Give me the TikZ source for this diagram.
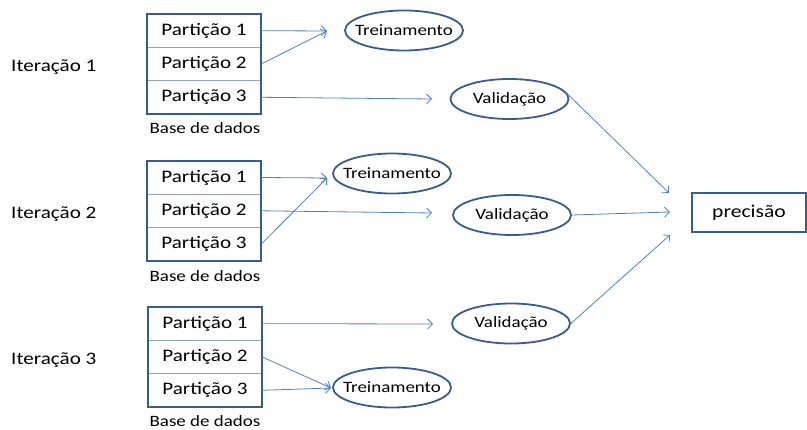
\documentclass[tikz,border=0pt]{standalone}
\usepackage{fontspec}
\setmainfont{Carlito}[FakeStretch=1.2]
\usetikzlibrary{arrows.meta,shapes.geometric}
\definecolor{bord}{HTML}{385D8A}
\definecolor{arr}{HTML}{4F81BD}
\definecolor{divc}{HTML}{8EA6C4}
\tikzset{
  part/.style={minimum width=114pt,minimum height=33.33pt,inner sep=0pt,font=\fontsize{17.6}{17.6}\selectfont},
  outer/.style={draw=bord,line width=1.8pt},
  divider/.style={draw=divc,line width=0.9pt},
  ell/.style={draw=bord,line width=1.8pt,ellipse,minimum width=118pt,minimum height=40pt,inner xsep=-12pt,inner ysep=-4pt,font=\fontsize{15.8}{15.8}\selectfont},
  conn/.style={draw=arr,line width=0.8pt,-{Straight Barb[length=5pt,width=10pt]}},
  lbl/.style={font=\fontsize{17.6}{17.6}\selectfont,anchor=west,inner sep=0pt},
  base/.style={font=\fontsize{15.8}{15.8}\selectfont,inner sep=0pt}
}
\begin{document}
\begin{tikzpicture}[x=1pt,y=-1pt]
\useasboundingbox (0,0) rectangle (807,430);
% Iteration labels
\node[lbl] (it1) at (11,67) {Iteração 1};
\node[lbl] (it2) at (11,214) {Iteração 2};
\node[lbl] (it3) at (11,360) {Iteração 3};
% box 1
\node[part] (p11) at (204,30.7) {Partição 1};
\node[part] (p12) at (204,64) {Partição 2};
\node[part] (p13) at (204,97.3) {Partição 3};
\draw[divider] (p11.south west) -- (p11.south east);
\draw[divider] (p12.south west) -- (p12.south east);
\draw[outer] (p11.north west) rectangle (p13.south east);
\node[base] (b1) at (205,128) {Base de dados};
% box 2
\node[part] (p21) at (204,177.5) {Partição 1};
\node[part] (p22) at (204,210.8) {Partição 2};
\node[part] (p23) at (204,244.2) {Partição 3};
\draw[divider] (p21.south west) -- (p21.south east);
\draw[divider] (p22.south west) -- (p22.south east);
\draw[outer] (p21.north west) rectangle (p23.south east);
\node[base] (b2) at (205,276) {Base de dados};
% box 3
\node[part] (p31) at (205,323.7) {Partição 1};
\node[part] (p32) at (205,357) {Partição 2};
\node[part] (p33) at (205,390.3) {Partição 3};
\draw[divider] (p31.south west) -- (p31.south east);
\draw[divider] (p32.south west) -- (p32.south east);
\draw[outer] (p31.north west) rectangle (p33.south east);
\node[base] (b3) at (205,421) {Base de dados};
% ellipses
\node[ell] (t1) at (404,30.5) {Treinamento};
\node[ell] (v1) at (509.5,99) {Validação};
\node[ell] (t2) at (392,173.5) {Treinamento};
\node[ell] (v2) at (512,215) {Validação};
\node[ell] (v3) at (511,323.5) {Validação};
\node[ell] (t3) at (392,387.5) {Treinamento};
% precision
\node[draw=bord,line width=1.8pt,minimum width=114pt,minimum height=39pt,inner sep=0pt,font=\fontsize{18}{18}\selectfont] (pr) at (749,212.5) {precisão};
% arrow end coordinates
\coordinate (t1in) at (327,31);
\coordinate (v1in) at (432,99);
\coordinate (t2in) at (327,178);
\coordinate (v2in) at (432,213);
\coordinate (v3in) at (433,324);
\coordinate (t3in) at (331,388);
\coordinate (pin1) at (669,193);
\coordinate (pin2) at (670,212);
\coordinate (pin3) at (670,235);
% arrows iteration 1
\draw[conn] (p11.east) -- (t1in);
\draw[conn] (p12.east) -- (t1in);
\draw[conn] (p13.east) -- (v1in);
% iteration 2
\draw[conn] (p21.east) -- (t2in);
\draw[conn] (p23.east) -- (t2in);
\draw[conn] (p22.east) -- (v2in);
% iteration 3
\draw[conn] (p31.east) -- (v3in);
\draw[conn] (p32.east) -- (t3in);
\draw[conn] (p33.east) -- (t3in);
% to precision
\draw[conn] (v1.10) -- (pin1);
\draw[conn] (v2.east) -- (pin2);
\draw[conn] (v3.east) -- (pin3);
\end{tikzpicture}
\end{document}
